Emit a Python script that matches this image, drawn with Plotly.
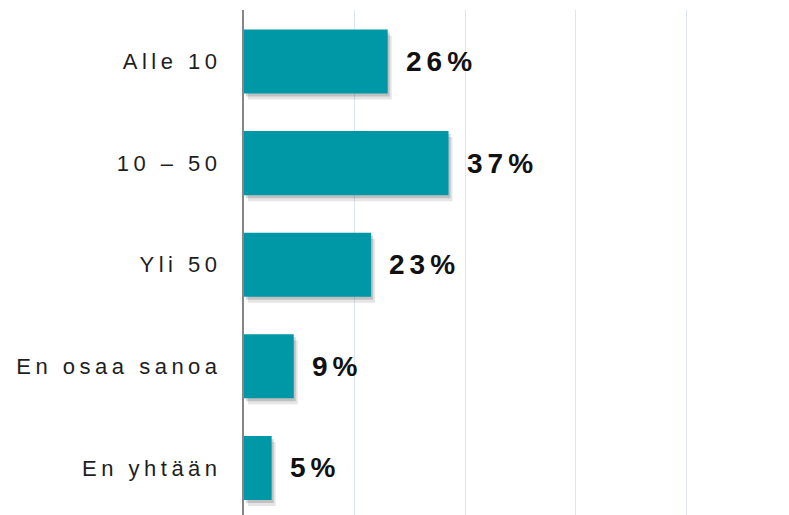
import plotly.graph_objects as go

# survey answers, top to bottom
categories = ["Alle 10", "10 – 50", "Yli 50", "En osaa sanoa", "En yhtään"]
values = [26, 37, 23, 9, 5]
value_labels = [f"{v}%" for v in values]

BAR = "#0097a7"
px_per_unit = 545 / 98.6      # x pixels per percent
px_per_cat = 101.6            # y pixels per category band

fig = go.Figure()

# soft drop shadow under the bars, nudged right/down a few pixels
for dx, dy, alpha in [(2, 3, 0.16), (4, 6, 0.10)]:
    fig.add_trace(go.Bar(
        x=values, y=categories, orientation="h",
        base=dx / px_per_unit,
        width=0.63, offset=-0.315 - dy / px_per_cat,
        marker=dict(color=f"rgba(0,0,0,{alpha})", line=dict(width=0)),
        hoverinfo="skip", showlegend=False,
    ))

fig.add_trace(go.Bar(
    x=values, y=categories, orientation="h",
    width=0.63,
    marker=dict(color=BAR, line=dict(width=0)),
    hoverinfo="skip", showlegend=False,
))

annotations = [
    dict(x=v, y=c, xref="x", yref="y", text=t, showarrow=False,
         xanchor="left", yanchor="middle", align="left", xshift=16,
         font=dict(family="Liberation Sans, Arial", size=28, color="#111111", weight="bold"))
    for c, v, t in zip(categories, values, value_labels)
]

fig.update_layout(
    width=789, height=515,
    margin=dict(l=244, r=0, t=10, b=0, pad=0),
    paper_bgcolor="white", plot_bgcolor="white",
    barmode="overlay",
    showlegend=False,
    annotations=annotations,
    xaxis=dict(
        range=[0, 98.6], tick0=0, dtick=20,
        showgrid=True, gridcolor="#dce6f2", gridwidth=1,
        showticklabels=False, zeroline=False, showline=False, ticks="",
    ),
    yaxis=dict(
        categoryorder="array", categoryarray=categories[::-1],
        range=[-0.463, 4.507],
        showgrid=False, zeroline=False,
        showline=True, linecolor="#868686", linewidth=2,
        ticks="", ticklabelstandoff=16,
        tickfont=dict(family="Liberation Sans, Arial", size=22, color="#1e1e1e"),
    ),
)

# page margin off, and wide letter tracking like the original slide
post = """
document.body.style.margin = '0';
var gd = document.getElementById('{plot_id}');
gd.querySelectorAll('.ytick text').forEach(function(t){ t.style.letterSpacing = '4.5px'; });
gd.querySelectorAll('.annotation-text').forEach(function(t){ t.style.letterSpacing = '5px'; });
"""

fig.write_html("out.html", post_script=post, config={"displayModeBar": False})
